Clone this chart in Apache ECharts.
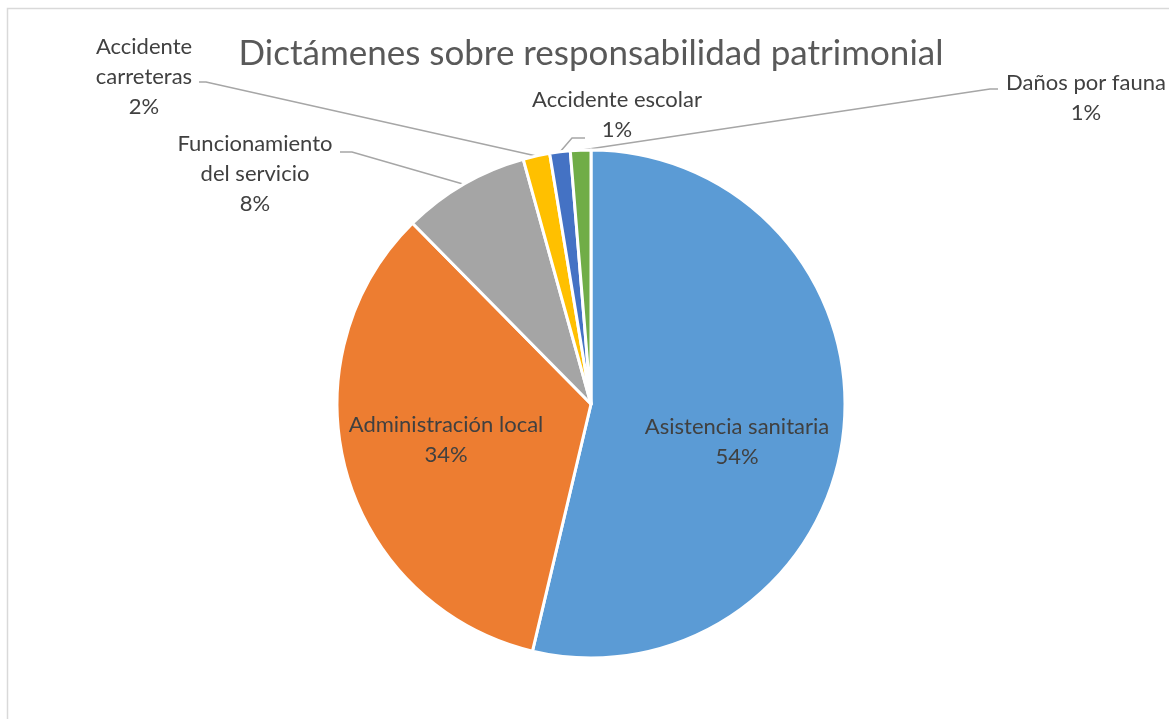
<!DOCTYPE html>
<html>
<head>
<meta charset="utf-8">
<script src="https://cdn.jsdelivr.net/npm/echarts@6/dist/echarts.min.js"></script>
<style>
html,body{margin:0;padding:0;background:#fff;}
#chart{width:1169px;height:719px;}
</style>
</head>
<body>
<div id="chart"></div>
<script>
// ---- data ----
const categories = [
  'Asistencia sanitaria',
  'Administración local',
  'Funcionamiento\ndel servicio',
  'Accidente\ncarreteras',
  'Accidente escolar',
  'Daños por fauna'
];
const values = [53.7, 33.9, 8.1, 1.7, 1.3, 1.3];
const colors = ['#5B9BD5', '#ED7D31', '#A5A5A5', '#FFC000', '#4472C4', '#70AD47'];
const titleText = 'Dictámenes sobre responsabilidad patrimonial';

// ---- label layout (label centre, leader elbow points) ----
const labelPos = [
  {x: 737, y: 442},
  {x: 446, y: 440},
  {x: 255, y: 174, line: [[352, 152], [340, 152]]},
  {x: 144, y: 77,  line: [[206, 82], [199, 82]]},
  {x: 617, y: 115, line: [[572, 138], [585, 138]]},
  {x: 1086, y: 98, line: [[990, 89], [998, 89]]}
];
const insideIdx = [0, 1];

const FONT = 'Lato';
const chart = echarts.init(document.getElementById('chart'), null, {renderer: 'canvas'});

const seriesData = categories.map((c, i) => ({
  name: c,
  value: values[i],
  itemStyle: {color: colors[i]},
  label: {position: insideIdx.includes(i) ? 'inside' : 'outside'},
  labelLine: {show: !insideIdx.includes(i)}
}));

chart.setOption({
  animation: false,
  title: {
    text: titleText,
    left: 586,
    top: 31,
    textAlign: 'center',
    textStyle: {fontFamily: FONT, fontSize: 35, fontWeight: 'normal', color: '#595959'}
  },
  graphic: [{
    type: 'rect',
    shape: {x: 7.5, y: 8.5, width: 1300, height: 900},
    style: {fill: 'none', stroke: '#d9d9d9', lineWidth: 1.5},
    silent: true
  }],
  series: [{
    type: 'pie',
    center: [591, 404],
    radius: 254,
    startAngle: 90,
    clockwise: true,
    data: seriesData,
    itemStyle: {borderColor: '#ffffff', borderWidth: 3},
    label: {
      fontFamily: FONT,
      fontSize: 22,
      color: '#404040',
      lineHeight: 30,
      align: 'center',
      formatter: p => p.name + '\n' + Math.round(p.percent) + '%'
    },
    labelLine: {
      lineStyle: {color: '#A6A6A6', width: 1.5},
      length: 20, length2: 10
    },
    labelLayout: function (params) {
      const lp = labelPos[params.dataIndex];
      const out = {x: lp.x, y: lp.y, align: 'center', verticalAlign: 'middle'};
      if (lp.line && params.labelLinePoints) {
        out.labelLinePoints = [params.labelLinePoints[0], lp.line[0], lp.line[1]];
      }
      return out;
    }
  }]
});
</script>
</body>
</html>
